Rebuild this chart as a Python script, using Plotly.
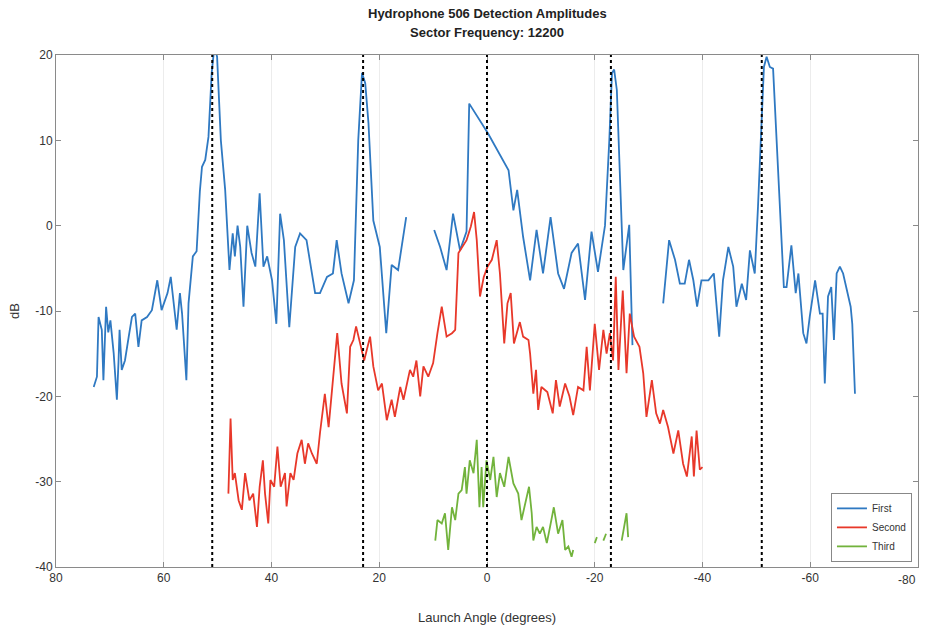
import plotly.graph_objects as go

# Launch angle (deg) / amplitude (dB) for each detection; None marks a gap in coverage
FIRST_ANGLE = [
    73.0, 72.4, 72.1, 71.5, 71.2, 70.7, 70.3, 69.9, 69.3, 69.0, 68.7, 68.4, 68.2, 67.8, 67.2,
    66.5, 65.9, 65.3, 64.7, 64.1, 63.1, 62.2, 61.2, 60.4, 59.3, 58.7, 57.6, 57.0, 56.6,
    55.8, 55.4, 54.6, 53.9, 53.3, 52.9, 52.3, 51.7, 51.1, 50.6, 50.1, 49.4, 48.6, 47.8,
    47.2, 46.8, 46.3, 45.8, 45.2, 44.5, 43.7, 43.0, 42.2, 41.5, 40.8, 39.9, 39.1, 38.4,
    37.7, 36.7, 35.6, 34.7, 33.5, 31.9, 31.0, 29.7, 28.6, 27.9, 27.0, 25.7, 24.7, 23.9,
    23.2, 22.6, 22.0, 21.1, 19.9, 18.7, 17.7, 16.5, 15.0,
    None,
    9.8, 8.7, 7.5, 6.3, 5.0, 3.8, 3.3, -0.2, -4.0, -4.9, -5.6, -6.7, -8.0, -9.2, -10.4,
    -11.8, -13.2, -14.3, -15.7, -16.9, -18.2, -19.4, -20.6, -21.9, -22.7, -23.2, -23.6,
    -24.1, -25.3, -26.4, -27.0,
    None,
    -32.7, -33.8, -34.9, -35.8, -36.7, -37.5, -38.3, -39.0, -39.8, -41.1, -42.1, -43.1,
    -43.8, -44.8, -45.7, -46.3, -47.3, -48.1, -48.8, -49.7, -50.3, -51.0, -51.4, -51.9,
    -52.5, -53.1, -54.0, -55.1, -55.6, -56.5, -57.3, -57.8, -58.7, -59.3, -59.9, -60.9,
    -61.8, -62.3, -62.7, -63.3, -63.9, -64.4, -64.9, -65.5, -66.1, -66.8, -67.5, -67.8,
    -68.3,
]
FIRST_DB = [
    -18.9, -17.7, -10.7, -12.2, -18.1, -9.5, -12.5, -11.1, -14.9, -17.5, -20.4, -16.0, -12.2, -16.9, -15.8,
    -13.0, -10.7, -10.3, -14.2, -11.1, -10.7, -9.9, -6.4, -9.9, -7.9, -6.0, -12.2, -7.9, -10.3,
    -18.1, -9.1, -3.6, -3.0, 4.0, 6.9, 7.7, 10.4, 17.9, 21.0, 19.8, 10.0, 4.2, -5.2,
    -0.9, -3.6, 0.0, -2.5, -9.5, 0.0, -3.2, -4.8, 3.8, -4.8, -3.6, -6.4, -11.5, 1.4,
    -1.7, -11.9, -2.5, -0.9, -1.7, -7.9, -7.9, -6.0, -5.6, -1.7, -5.6, -9.1, -6.4, 10.0,
    17.9, 16.7, 12.0, 0.6, -2.5, -12.6, -4.6, -5.2, 1.0,
    None,
    -0.5, -2.5, -5.2, 1.4, -2.9, -0.7, 14.3, 10.8, 6.5, 1.8, 4.2, -1.3, -6.4, -0.5, -5.6,
    1.0, -5.6, -7.4, -3.2, -2.1, -8.7, -0.7, -5.4, 0.0, 10.0, 17.9, 18.3,
    15.9, -5.2, 0.1, -14.0,
    None,
    -9.1, -1.7, -4.0, -6.8, -6.8, -4.0, -6.4, -9.5, -6.4, -6.4, -5.6, -13.0,
    -6.4, -2.5, -4.8, -9.5, -6.8, -8.7, -2.9, -5.6, 2.2, 13.9, 18.6, 19.8,
    18.6, 18.4, 6.1, -7.2, -7.2, -2.3, -7.9, -5.6, -12.6, -13.8, -10.7, -6.4,
    -10.3, -10.3, -18.5, -8.3, -7.2, -13.4, -5.6, -4.8, -5.6, -7.6, -9.5, -11.5,
    -19.7,
]

SECOND_ANGLE = [
    48.0, 47.6, 47.2, 46.8, 46.1, 45.5, 44.9, 44.1, 43.4, 42.7, 42.2, 41.6, 41.2, 40.6,
    40.2, 39.5, 38.9, 38.3, 37.5, 37.2, 36.5, 35.9, 35.2, 34.4, 33.8, 33.2, 32.5, 31.6,
    31.0, 30.1, 29.4, 28.5, 27.8, 27.0, 26.0, 25.4, 24.8, 24.3, 23.7, 22.8, 21.7, 21.1,
    20.2, 19.5, 18.6, 17.7, 17.1, 16.1, 15.5, 14.3, 13.7, 13.1, 12.4, 11.8, 10.9, 10.0,
    9.2, 8.4, 7.5, 6.5, 5.9, 5.3, 3.8, 3.0, 2.4, 1.9, 1.3, 0.6, -0.1, -0.9, -1.8, -2.4,
    -3.2, -3.8, -4.4, -5.0, -6.1, -6.7, -7.7, -8.0, -8.6, -9.1, -9.5, -10.1, -11.2, -12.2,
    -12.8, -13.5, -14.5, -15.3, -16.0, -16.9, -17.9, -18.5, -19.1, -20.0, -20.8, -21.6,
    -22.2, -22.8, -23.4, -23.9, -24.4, -25.2, -25.9, -26.5, -27.3, -28.3, -29.0, -29.6,
    -30.6, -31.4, -32.1, -32.7, -33.6, -34.6, -35.5, -36.4, -37.1, -38.0, -38.4, -38.9,
    -39.5, -40.0,
]
SECOND_DB = [
    -31.4, -22.6, -29.8, -29.0, -32.2, -33.3, -29.0, -32.2, -31.4, -35.3, -30.6, -27.5, -31.4, -34.9,
    -29.8, -30.6, -25.9, -30.6, -29.0, -32.9, -29.0, -29.8, -26.7, -25.1, -27.9, -25.5, -26.7, -27.9,
    -24.3, -19.7, -23.6, -17.3, -12.6, -18.5, -22.0, -14.2, -13.4, -11.8, -13.4, -15.8, -13.0, -16.5,
    -19.3, -18.5, -22.8, -20.4, -22.4, -18.9, -20.4, -16.9, -17.7, -15.8, -20.0, -16.5, -17.7, -16.1,
    -12.6, -9.5, -13.0, -12.6, -12.2, -3.2, -1.7, -0.1, 1.6, -1.7, -8.3, -6.0, -4.8, -4.0, -1.7, -5.6,
    -13.8, -9.1, -7.9, -13.8, -11.3, -13.0, -13.4, -15.0, -19.7, -16.9, -21.6, -18.9, -19.5, -22.0,
    -18.1, -21.2, -18.5, -20.0, -22.2, -18.9, -19.3, -14.2, -19.3, -11.5, -16.9, -12.2,
    -15.0, -12.6, -15.8, -6.0, -16.9, -7.6, -17.3, -10.3, -13.0, -14.2, -17.3, -22.4,
    -18.1, -22.0, -23.2, -21.6, -23.6, -26.7, -24.0, -27.9, -29.4, -24.7, -29.4, -24.0,
    -28.6, -28.3,
]

THIRD_ANGLE = [
    9.6, 9.2, 8.4, 7.8, 7.2, 6.5, 5.9, 5.3, 4.7, 4.1, 3.8, 3.2, 2.5, 1.9, 1.4, 1.0, 0.7,
    0.1, -0.6, -1.2, -1.8, -2.4, -3.2, -4.0, -4.9, -5.8, -6.4, -7.8, -8.3, -8.6, -9.2,
    -9.8, -10.4, -11.1, -11.7, -12.4, -13.2, -14.0, -14.5, -15.1, -15.7, -16.0,
    None, -20.0, -20.4,
    None, -21.6, -22.1,
    None, -25.0, -25.4, -25.9, -26.2,
]
THIRD_DB = [
    -36.9, -34.5, -34.9, -33.7, -38.0, -33.0, -34.5, -31.4, -31.0, -28.3, -31.4, -27.5, -29.0,
    -25.1, -33.0, -28.3, -33.0, -27.5, -29.8, -27.1, -31.8, -29.0, -30.6, -27.1, -30.2, -31.4,
    -34.5, -30.6, -33.7, -36.9, -35.3, -36.1, -35.3, -37.2, -35.3, -33.0, -36.1, -34.5,
    -38.0, -37.6, -38.8, -38.0,
    None, -37.2, -36.5,
    None, -36.9, -36.1,
    None, -36.9, -35.3, -33.7, -36.5,
]

SERIES = [
    ("First", FIRST_ANGLE, FIRST_DB, "#2f79c2"),
    ("Second", SECOND_ANGLE, SECOND_DB, "#e8382a"),
    ("Third", THIRD_ANGLE, THIRD_DB, "#72b33c"),
]

# Reference launch angles marked with dotted verticals
REFERENCE_ANGLES = [51, 23, 0, -23, -51]

X_TICKS = [80, 60, 40, 20, 0, -20, -40, -60, -80]
Y_TICKS = [20, 10, 0, -10, -20, -30, -40]

TITLE_LINES = ["Hydrophone 506 Detection Amplitudes", "Sector Frequency: 12200"]

FONT = "Liberation Sans, Arial, sans-serif"
TICK_FONT = dict(family=FONT, size=12, color="#333333")

fig = go.Figure()
for name, xs, ys, color in SERIES:
    fig.add_trace(go.Scatter(
        x=xs, y=ys, name=name, mode="lines",
        line=dict(color=color, width=1.8),
        connectgaps=False,
    ))

for a in REFERENCE_ANGLES:
    fig.add_shape(type="line", xref="x", yref="paper", x0=a, x1=a, y0=0, y1=1,
                  line=dict(color="black", width=2, dash="dot"))

# Two-line bold heading above the axes
for i, line in enumerate(TITLE_LINES):
    fig.add_annotation(
        text=f"<b>{line}</b>", xref="x", yref="paper", x=0, y=1.082 - 0.039 * i,
        xanchor="center", yanchor="middle", showarrow=False,
        font=dict(family=FONT, size=13, color="#222222"),
    )

# The last x tick sits on the page edge: right-align its label so it stays whole
x_ticktext = [str(v) for v in X_TICKS]
x_ticktext[-1] = ""
fig.add_annotation(
    text=str(X_TICKS[-1]), xref="x", yref="paper", x=X_TICKS[-1], y=0,
    xanchor="right", yanchor="top", yshift=-4, showarrow=False,
    font=TICK_FONT,
)

fig.update_layout(
    width=925, height=628,
    margin=dict(l=56, r=7, t=55, b=61, autoexpand=False),
    paper_bgcolor="white", plot_bgcolor="white",
    font=dict(family=FONT, size=12, color="#333333"),
    showlegend=True,
    legend=dict(
        x=0.993, y=0.01, xanchor="right", yanchor="bottom",
        bgcolor="white", bordercolor="#888888", borderwidth=1,
        font=dict(family=FONT, size=10, color="#333333"),
        itemwidth=30, tracegroupgap=0,
    ),
)

fig.update_xaxes(
    range=[80, -80], tickvals=X_TICKS, ticktext=x_ticktext,
    tickfont=TICK_FONT, automargin=False,
    showgrid=True, gridcolor="#ececec", gridwidth=1, zeroline=False,
    showline=True, linecolor="#8a8a8a", linewidth=1, mirror="ticks",
    ticks="inside", ticklen=5, tickcolor="#8a8a8a",
    title=dict(text="Launch Angle (degrees)", font=dict(family=FONT, size=13, color="#333333"), standoff=28),
)
fig.update_yaxes(
    range=[-40, 20], tickvals=Y_TICKS, ticktext=[str(v) for v in Y_TICKS],
    tickfont=TICK_FONT, automargin=False,
    showgrid=False, zeroline=False,
    showline=True, linecolor="#8a8a8a", linewidth=1, mirror="ticks",
    ticks="inside", ticklen=5, tickcolor="#8a8a8a",
    title=dict(text="dB", font=dict(family=FONT, size=13, color="#333333"), standoff=12),
)

fig.write_html("out.html")
